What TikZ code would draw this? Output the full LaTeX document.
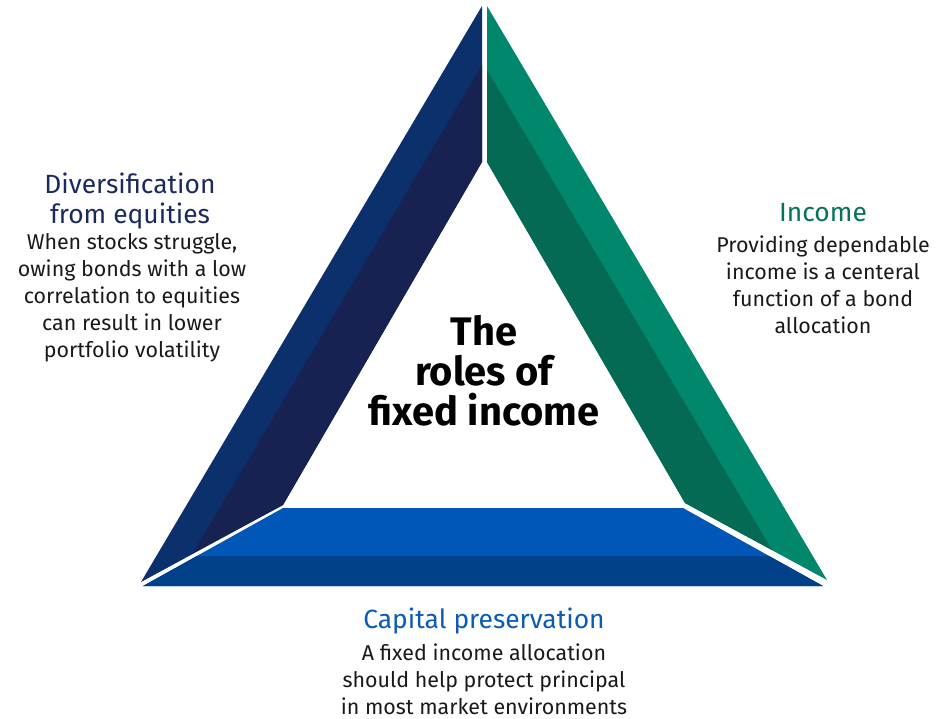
\documentclass[tikz,border=0pt]{standalone}
\usepackage{fontspec}
\setmainfont{Fira Sans}
\usepackage{tikz}
\usetikzlibrary{positioning, calc}
\definecolor{rnavy}{HTML}{0B306B}
\definecolor{rnavydark}{HTML}{182252}
\definecolor{rgreen}{HTML}{00876C}
\definecolor{rgreendark}{HTML}{046A54}
\definecolor{rblue}{HTML}{0057B8}
\definecolor{rbluedark}{HTML}{00418A}
\definecolor{rnavytext}{HTML}{1B2A5E}
\definecolor{rgreentext}{HTML}{05735A}
\definecolor{rbluetext}{HTML}{0A5BB5}
\tikzset{
  headtxt/.style={align=center, inner sep=0pt, font=\fontsize{26.5}{31}\selectfont},
  bodytxt/.style={align=center, inner sep=0pt, text=black!90, font=\fontsize{21.5}{27}\selectfont},
}

\begin{document}
\begin{tikzpicture}[
    x=1bp, y=-1bp,
    centertxt/.style={align=center, inner sep=0pt, font=\fontsize{40}{40}\selectfont\bfseries}
  ]
  \useasboundingbox (0,0) rectangle (951,719);

  % left side: diversification
  \fill[rnavy] (482,6) -- (482,162) -- (283,505) -- (141,582) -- cycle;
  \fill[rnavydark] (482,65) -- (482,162) -- (283,505) -- (193,553) -- cycle;

  % right side: income
  \fill[rgreen] (487,6) -- (487,162) -- (685,503) -- (827,580) -- cycle;
  \fill[rgreendark] (487,70) -- (487,162) -- (685,503) -- (772,550) -- cycle;

  % bottom: capital preservation
  \fill[rblue] (283,508) -- (683,508) -- (823,586) -- (143,586) -- cycle;
  \fill[rbluedark] (197,556) -- (769,556) -- (823,586) -- (143,586) -- cycle;

  \node[centertxt] (roles) at (484,371) {The\\roles of\\fixed income};

  \node[headtxt, text=rnavytext] (divhead) at (130,201) {Diversification\\from equities};
  \node[bodytxt] (divbody) at (132,298) {When stocks struggle,\\owing bonds with a low\\correlation to equities\\can result in lower\\portfolio volatility};

  \node[headtxt, text=rgreentext] (inchead) at (823,213) {Income};
  \node[bodytxt] (incbody) at (823,285) {Providing dependable\\income is a centeral\\function of a bond\\allocation};

  \node[headtxt, text=rbluetext] (caphead) at (484,621) {Capital preservation};
  \node[bodytxt] (capbody) at (484,679) {A fixed income allocation\\should help protect principal\\in most market environments};
\end{tikzpicture}
\end{document}
